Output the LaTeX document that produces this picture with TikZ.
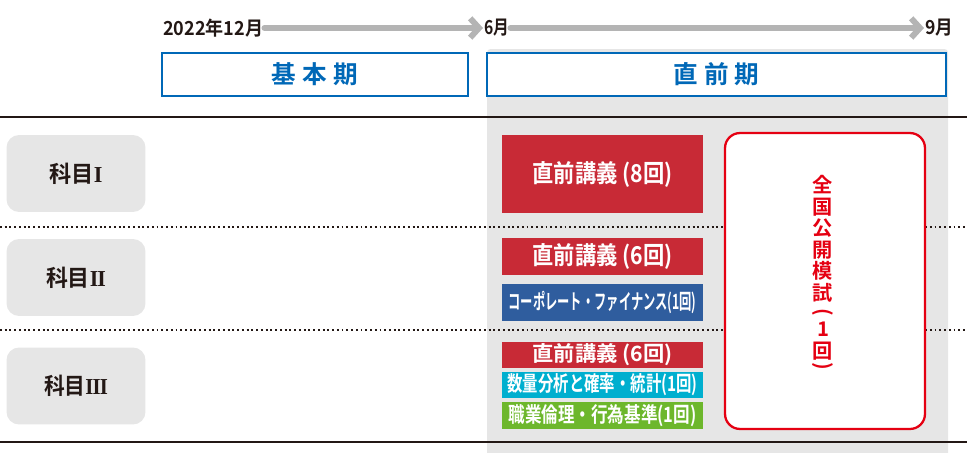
\documentclass[tikz,border=0pt]{standalone}
\usepackage{fontspec}
\setmainfont{Noto Sans CJK JP}[BoldFont={Noto Sans CJK JP Bold}]
\newfontfamily\numfont{Liberation Serif}
\usepackage{graphicx}
\usetikzlibrary{arrows.meta,positioning}

\definecolor{ttlblue}{HTML}{0068B7}
\definecolor{bggray}{HTML}{E6E6E6}
\definecolor{arrowgray}{HTML}{B4B4B4}
\definecolor{txtblack}{HTML}{231815}
\definecolor{lecred}{HTML}{C82A36}
\definecolor{lecblue}{HTML}{2F5D9E}
\definecolor{leccyan}{HTML}{00AFCF}
\definecolor{lecgreen}{HTML}{6DB72C}
\definecolor{mockred}{HTML}{E50012}

% squeeze a text to a given width
\newcommand{\fitto}[2]{\resizebox{#1}{\height}{#2}}
% roman numerals of the subjects
\newcommand{\rnum}[1]{{\numfont\bfseries #1}}
% parenthesis turned for vertical text
\newcommand{\vparen}[1]{\rotatebox[origin=c]{-90}{#1}}

\tikzset{
  period/.style={draw=ttlblue, line width=1.2pt, fill=white, text=ttlblue,
    font=\fontsize{14}{14}\selectfont\bfseries, minimum height=0.86cm, inner sep=0pt},
  subject/.style={fill=bggray, rounded corners=0.25cm, minimum width=2.78cm,
    minimum height=1.54cm, text=txtblack, font=\fontsize{13}{13}\selectfont\bfseries},
  lecture/.style={minimum width=4.02cm, text=white, inner sep=0pt,
    font=\fontsize{14}{14}\selectfont\bfseries},
  smalllec/.style={lecture, font=\fontsize{12}{12}\selectfont\bfseries},
  month/.style={anchor=west, inner sep=0.5pt, text=txtblack,
    font=\fontsize{11}{11}\selectfont\bfseries},
  timeline/.style={line width=3.4pt, arrowgray, line cap=round,
    -{Straight Barb[length=5pt,width=11pt]}},
  dotline/.style={line width=1.2pt, txtblack, dash pattern=on 1.1pt off 1.6pt},
}

\begin{document}
\begin{tikzpicture}[x=0.02cm, y=-0.02cm]
  \useasboundingbox (0,0) rectangle (967,453);

  % gray area of the final period
  \fill[bggray, rounded corners=2pt] (487,453) -- (487,49) -- (948,49) -- (948,453);

  % rules between rows
  \draw[txtblack, line width=0.6pt] (0,117) -- (967,117);
  \draw[txtblack, line width=0.6pt] (0,442) -- (967,442);
  \draw[dotline] (0,227) -- (967,227);
  \draw[dotline] (0,330) -- (967,330);

  % timeline
  \node[month] (start) at (162,28) {\fitto{2.0cm}{2022年12月}};
  \node[month] (jun) at (483,28) {\fitto{0.5cm}{6月}};
  \node[month] (sep) at (924,28) {\fitto{0.56cm}{9月}};
  \draw[timeline] (start.east) -- (jun.west);
  \draw[timeline] (jun.east) -- (sep.west);

  % periods
  \node[period, minimum width=6.12cm] (basic) at (315,74.5) {基\hspace{0.25em}本\hspace{0.25em}期};
  \node[period, minimum width=9.18cm] (final) at (716.5,74.5) {直\hspace{0.25em}前\hspace{0.25em}期};

  % subjects
  \node[subject] (subj1) at (76,173.5) {\fitto{1.06cm}{科目\rnum{I}}};
  \node[subject] (subj2) at (76,277.5) {\fitto{1.2cm}{科目\rnum{I\kern-0.04em I}}};
  \node[subject] (subj3) at (76,386) {\fitto{1.28cm}{科目\rnum{I\kern-0.04em I\kern-0.04em I}}};

  % lectures
  \node[lecture, fill=lecred, minimum height=1.56cm] (lec1) at (602.5,174)
    {\fitto{2.8cm}{直前講義 (8回)}};
  \node[lecture, fill=lecred, minimum height=0.74cm] (lec2) at (602.5,256.5)
    {\fitto{2.8cm}{直前講義 (6回)}};
  \node[smalllec, fill=lecblue, minimum height=0.74cm] (corp) at (602.5,302.5)
    {\fitto{3.76cm}{コーポレート・ファイナンス(1回)}};
  \node[smalllec, fill=lecred, minimum height=0.52cm] (lec3) at (602.5,355)
    {\fitto{2.8cm}{直前講義 (6回)}};
  \node[smalllec, fill=leccyan, minimum height=0.52cm] (quant) at (602.5,385)
    {\fitto{3.8cm}{数量分析と確率・統計(1回)}};
  \node[smalllec, fill=lecgreen, minimum height=0.54cm] (ethic) at (602.5,415.5)
    {\fitto{3.76cm}{職業倫理・行為基準(1回)}};

  % mock exam
  \node[draw=mockred, line width=1.3pt, fill=white, rounded corners=0.3cm,
    minimum width=4cm, minimum height=5.92cm] (mock) at (825,281) {};
  \node[text=mockred, align=center, inner sep=0pt,
    font=\fontsize{11.5}{12.3}\selectfont\bfseries] (mocktxt) at (823,274)
    {全\\国\\公\\開\\模\\試\\[-2pt]\vparen{(}\\[-2pt]1\\回\\[-4pt]\vparen{)}};
\end{tikzpicture}
\end{document}
